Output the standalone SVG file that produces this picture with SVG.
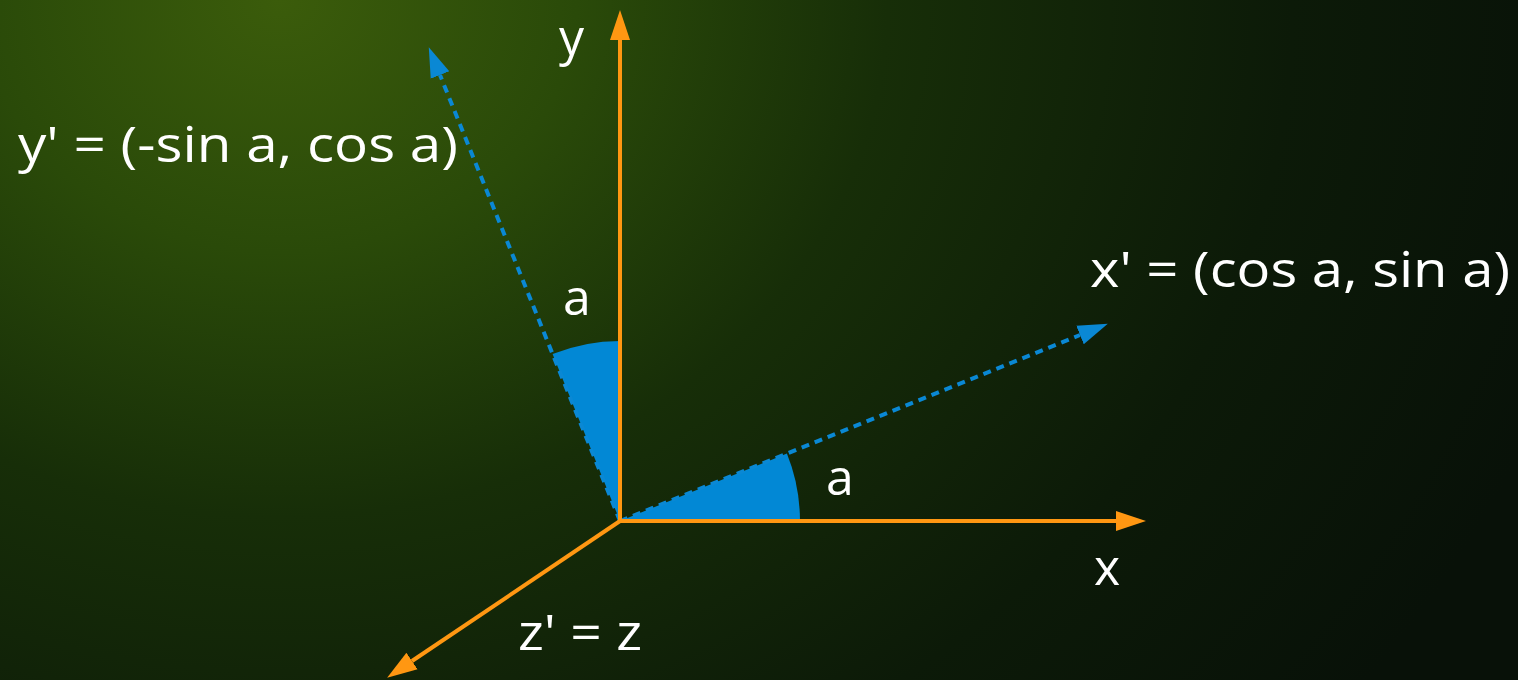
<svg xmlns="http://www.w3.org/2000/svg" width="1518" height="680" viewBox="0 0 1518 680">
<defs>
<radialGradient id="bg" cx="280" cy="0" r="1350" gradientUnits="userSpaceOnUse" gradientTransform="translate(280,0) scale(1,0.85) translate(-280,0)">
<stop offset="0" stop-color="#3b5c0b"/>
<stop offset="0.22" stop-color="#2a4a09"/>
<stop offset="0.45" stop-color="#172e08"/>
<stop offset="0.75" stop-color="#0c1a08"/>
<stop offset="1" stop-color="#081108"/>
</radialGradient>
<marker id="ao" markerUnits="userSpaceOnUse" markerWidth="32" markerHeight="24" viewBox="0 -12 32 24" refX="0" refY="0" orient="auto">
<path d="M0,-10 L30,0 L0,10 Z" fill="#ff9712"/>
</marker>
<marker id="ab" markerUnits="userSpaceOnUse" markerWidth="32" markerHeight="24" viewBox="0 -12 32 24" refX="0" refY="0" orient="auto">
<path d="M0,-10 L30,0 L0,10 Z" fill="#0a88d4"/>
</marker>
<style>
.ax{stroke:#ff9712;stroke-width:4;fill:none}
.dl{stroke:#0a88d4;stroke-width:4;stroke-dasharray:8 6;fill:none}
.sec{fill:#0288d5}
text{font-family:"Open Sans","Liberation Sans",sans-serif;fill:#ffffff}
.big{font-size:50px}
</style>
</defs>
<rect x="0" y="0" width="1518" height="680" fill="url(#bg)"/>
<g id="angles">
<path class="sec" d="M620,521 L800,521 A180,180 0 0,0 786.9,453.6 Z"/>
<path class="sec" d="M620,521 L620,341 A180,180 0 0,0 552.6,354.1 Z"/>
</g>
<g id="connectors">
<line class="dl" x1="620" y1="521" x2="1080" y2="335" marker-end="url(#ab)"/>
<line class="dl" x1="620" y1="521" x2="440" y2="75" marker-end="url(#ab)"/>
<line class="ax" x1="620" y1="521" x2="620" y2="40" marker-end="url(#ao)"/>
<line class="ax" x1="620" y1="521" x2="1116" y2="521" marker-end="url(#ao)"/>
<line class="ax" x1="620" y1="521" x2="412" y2="661" marker-end="url(#ao)"/>
</g>
<g id="labels">
<text class="big" x="18" y="162" textLength="440" lengthAdjust="spacingAndGlyphs">y' = (-sin a, cos a)</text>
<text class="big" x="1090" y="287" textLength="420" lengthAdjust="spacingAndGlyphs">x' = (cos a, sin a)</text>
<text class="big" x="559" y="55">y</text>
<text class="big" x="1094" y="585">x</text>
<text class="big" x="563" y="315">a</text>
<text class="big" x="826" y="495">a</text>
<text class="big" x="518" y="650" textLength="124" lengthAdjust="spacingAndGlyphs">z' = z</text>
</g>
</svg>
